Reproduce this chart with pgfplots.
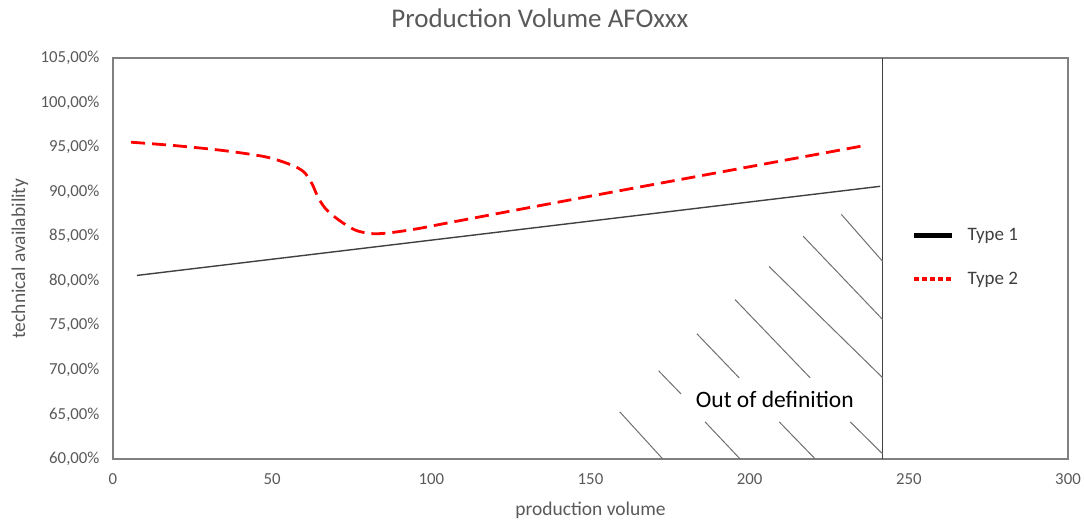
\documentclass[border=0pt]{standalone}
\usepackage{pgfplots}
\pgfplotsset{compat=1.18}
\usepackage{fontspec}
\setmainfont{Carlito}
\definecolor{txtgray}{HTML}{595959}
\definecolor{framegray}{HTML}{808080}
\definecolor{hatchgray}{HTML}{707070}
\definecolor{linegray}{HTML}{404040}
\definecolor{redline}{HTML}{FF0000}
\begin{document}
\begin{tikzpicture}[x=1bp,y=1bp]
\path[use as bounding box] (-113bp,-65bp) rectangle (971bp,459bp);
\begin{axis}[
  at={(0,0)}, anchor=south west,
  scale only axis, width=955bp, height=401bp,
  xmin=0, xmax=300, ymin=60, ymax=105,
  xtick={0,50,100,150,200,250,300},
  xticklabels={0,50,100,150,200,250,300},
  ytick={60,65,70,75,80,85,90,95,100,105},
  yticklabels={60{,}00\%,65{,}00\%,70{,}00\%,75{,}00\%,80{,}00\%,85{,}00\%,90{,}00\%,95{,}00\%,100{,}00\%,105{,}00\%},
  major tick length=0pt,
  axis line style={framegray, line width=1.2bp},
  tick label style={txtgray, font=\fontsize{16.8bp}{20bp}\selectfont},
  xticklabel style={yshift=-11bp},
  yticklabel style={xshift=-10bp},
  every axis x label/.style={at={(axis description cs:0.5,-0.127)}, anchor=center},
  every axis y label/.style={at={(axis description cs:-0.0974,0.5)}, rotate=90, anchor=center},
  label style={txtgray, font=\fontsize{19.5bp}{23bp}\selectfont},
  xlabel={production volume},
  ylabel={technical availability},
  every axis title/.style={at={(axis description cs:0.447,1.0998)}, anchor=center},
  title style={txtgray, font=\fontsize{27bp}{32bp}\selectfont},
  title={Production Volume AFOxxx},
  legend image code/.code={\draw[#1] (0bp,0bp) -- (38bp,0bp);},
  legend style={draw=none, fill=none, at={(axis description cs:0.8366,0.503)}, anchor=west,
    inner sep=0pt, row sep=30bp, column sep=13bp,
    nodes={inner sep=0pt, text=linegray, font=\fontsize{19bp}{22bp}\selectfont}},
  legend cell align=left,
  clip=false,
]
% legend images
\addlegendimage{black, line width=4.5bp}
\addlegendentry{Type 1}
\addlegendimage{redline, line width=4.5bp, dash pattern=on 4.5bp off 3.5bp}
\addlegendentry{Type 2}

% Type 1
\addplot[linegray, line width=1.4bp, forget plot] coordinates {(7.5,80.6) (241,90.6)};
% Type 2
\addplot[redline, line width=2.8bp, dash pattern=on 14bp off 7bp, smooth, tension=0.5, forget plot] coordinates {
(5.7,95.55) (20,95.15) (35,94.6) (48,93.9) (56,93.0) (60,92.2) (62.5,90.9) (64.5,89.3)
(67,88.0) (71,86.8) (76,85.7) (81,85.3) (86,85.35) (95,85.8) (106,86.55) (150,89.5) (200,92.8) (236.5,95.2)};

% boundary line
\addplot[linegray, line width=1.2bp, forget plot] coordinates {(241.8,60) (241.8,105)};

% hatch lines
\addplot[hatchgray, line width=1bp, forget plot] coordinates {(228.8,87.45) (241.8,82.16)};
\addplot[hatchgray, line width=1bp, forget plot] coordinates {(216.8,85.0) (241.8,75.64)};
\addplot[hatchgray, line width=1bp, forget plot] coordinates {(206.1,81.6) (241.8,69.11)};
\addplot[hatchgray, line width=1bp, forget plot] coordinates {(195.4,77.89) (219.0,69.11)};
\addplot[hatchgray, line width=1bp, forget plot] coordinates {(183.4,74.06) (196.7,69.11)};
\addplot[hatchgray, line width=1bp, forget plot] coordinates {(171.4,69.9) (178.4,67.31)};
\addplot[hatchgray, line width=1bp, forget plot] coordinates {(159.2,65.29) (172.7,60)};
\addplot[hatchgray, line width=1bp, forget plot] coordinates {(186.0,64.16) (197.0,60)};
\addplot[hatchgray, line width=1bp, forget plot] coordinates {(209.3,64.16) (220.6,60)};
\addplot[hatchgray, line width=1bp, forget plot] coordinates {(231.6,64.16) (241.8,60.56)};

\node[anchor=base, font=\fontsize{23.5bp}{28bp}\selectfont, text=black, inner sep=0pt] at (axis cs:207.9,65.74) {Out of definition};
\end{axis}
\end{tikzpicture}
\end{document}
